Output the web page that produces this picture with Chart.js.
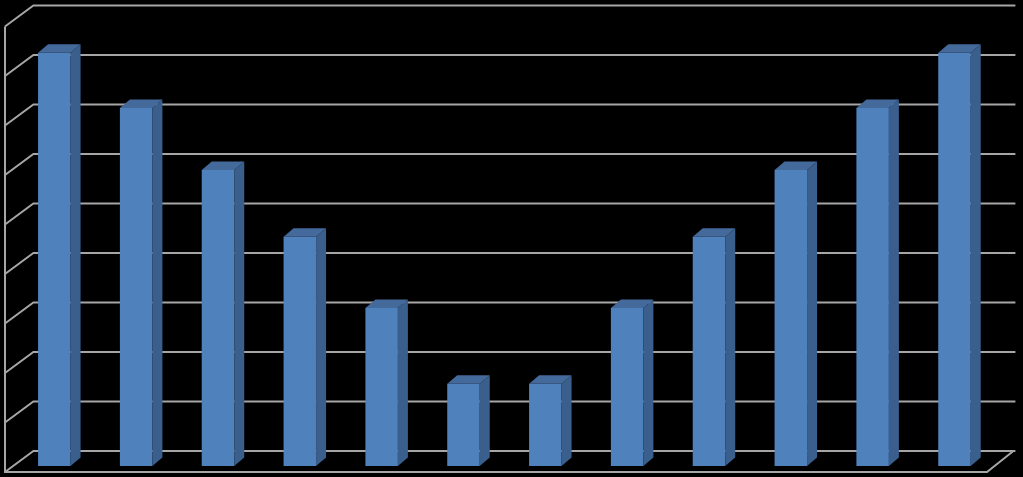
<!DOCTYPE html>
<html>
<head>
<meta charset="utf-8">
<script src="https://cdn.jsdelivr.net/npm/chart.js@4/dist/chart.umd.min.js"></script>
<style>
html,body{margin:0;padding:0;background:#000;}
#wrap{width:1023px;height:477px;position:relative;background:#000;}
</style>
</head>
<body>
<div id="wrap"><canvas id="c"></canvas></div>
<script>
const categories = ['1','2','3','4','5','6','7','8','9','10','11','12'];
const values = [8.35, 7.23, 5.98, 4.63, 3.19, 1.66, 1.66, 3.19, 4.63, 5.98, 7.23, 8.35];
const yTicks = [0,1,2,3,4,5,6,7,8,9];

const GRID = '#a6a6a6';
const BACK_DX = 20, BACK_DY = 15;     // back wall offset from bar front plane
const FRONT_DX = 8.4, FRONT_DY = 6;   // front floor edge offset
const BAR_DX = 10, BAR_DY = 8.5;      // bar depth

const walls = {
  id: 'walls',
  beforeDraw(chart) {
    const ctx = chart.ctx;
    ctx.save();
    ctx.fillStyle = '#000';
    ctx.fillRect(0, 0, chart.width, chart.height);
    ctx.restore();
  },
  beforeDatasetsDraw(chart) {
    const ctx = chart.ctx, ys = chart.scales.y, a = chart.chartArea;
    const bl = a.left + BACK_DX, br = a.right + BACK_DX;
    const fl = a.left - FRONT_DX, fr = a.right - FRONT_DX;
    const wallDX = bl - fl, wallDY = BACK_DY + FRONT_DY;
    ctx.save();
    ctx.strokeStyle = GRID;
    ctx.lineWidth = 2;
    yTicks.forEach(v => {
      const yb = ys.getPixelForValue(v) - BACK_DY;
      ctx.beginPath();
      ctx.moveTo(br, yb);
      ctx.lineTo(bl, yb);
      ctx.lineTo(fl, yb + wallDY);
      ctx.stroke();
    });
    const yTop = ys.getPixelForValue(yTicks[yTicks.length-1]) - BACK_DY + wallDY;
    const yFloorFront = ys.getPixelForValue(0) + FRONT_DY;
    ctx.beginPath();
    ctx.moveTo(fl, yTop);
    ctx.lineTo(fl, yFloorFront);
    ctx.lineTo(fr, yFloorFront);
    ctx.lineTo(br - 2, ys.getPixelForValue(0) - BACK_DY);
    ctx.stroke();
    ctx.restore();
  },
  afterDatasetsDraw(chart) {
    const ctx = chart.ctx;
    const meta = chart.getDatasetMeta(0);
    ctx.save();
    meta.data.forEach(bar => {
      const p = bar.getProps(['x','y','base','width'], true);
      const l = p.x - p.width/2, r = p.x + p.width/2, t = p.y, b = p.base;
      // side
      ctx.fillStyle = '#3a5f8c';
      ctx.beginPath();
      ctx.moveTo(r, t);
      ctx.lineTo(r + BAR_DX, t - BAR_DY);
      ctx.lineTo(r + BAR_DX, b - BAR_DY);
      ctx.lineTo(r, b);
      ctx.closePath();
      ctx.fill();
      // top
      ctx.fillStyle = '#44699b';
      ctx.beginPath();
      ctx.moveTo(l, t);
      ctx.lineTo(l + BAR_DX, t - BAR_DY);
      ctx.lineTo(r + BAR_DX, t - BAR_DY);
      ctx.lineTo(r, t);
      ctx.closePath();
      ctx.fill();
    });
    ctx.restore();
  }
};

new Chart(document.getElementById('c'), {
  type: 'bar',
  data: {
    labels: categories,
    datasets: [{
      data: values,
      backgroundColor: '#4f81bd',
      borderWidth: 0,
      categoryPercentage: 1,
      barPercentage: 0.397
    }]
  },
  options: {
    responsive: true,
    maintainAspectRatio: false,
    animation: false,
    layout: { padding: { left: 13.4, right: 27.6, top: 20.5, bottom: 11 } },
    plugins: { legend: { display: false }, tooltip: { enabled: false } },
    scales: {
      x: { display: false },
      y: { display: false, min: 0, max: 9, ticks: { stepSize: 1 } }
    }
  },
  plugins: [walls]
});
</script>
</body>
</html>
